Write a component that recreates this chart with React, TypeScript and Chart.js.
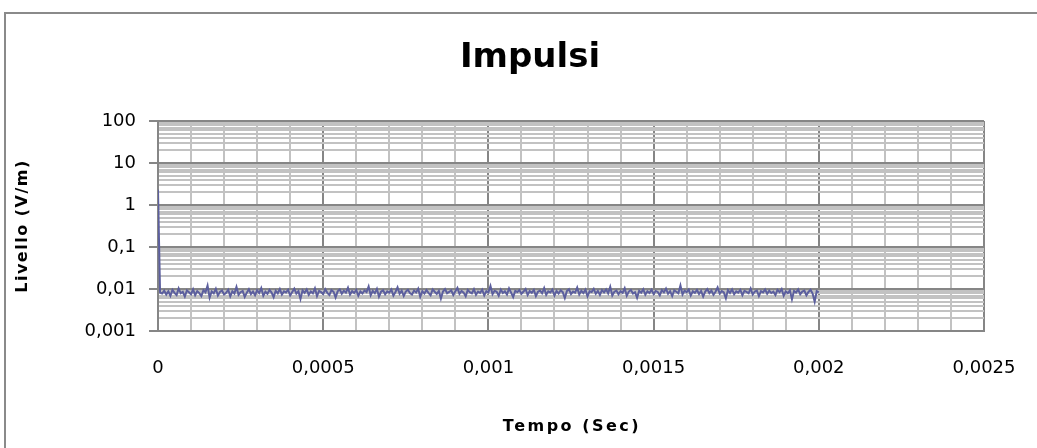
import React, { useEffect, useRef } from "react";
import { Chart, registerables } from "chart.js";

Chart.register(...registerables);

const TITLE = "Impulsi";
const X_TITLE = "Tempo (Sec)";
const Y_TITLE = "Livello (V/m)";

// sample period of the recorded impulse trace (seconds)
const TIME_STEP = 0.00000625;

// measured level (V/m), one value per sample starting at t = 0
const LEVELS: number[] = [
  2.3,
  0.0082, 0.0078, 0.0091, 0.0074, 0.0088, 0.0069, 0.0095, 0.0081, 0.0072, 0.0103, 0.0079, 0.0086, 0.0066, 0.0092, 0.0084, 0.0075, 0.0098, 0.0071, 0.0089, 0.008,
  0.0068, 0.0094, 0.0083, 0.012, 0.0062, 0.0087, 0.0079, 0.0101, 0.007, 0.0085, 0.0092, 0.0074, 0.0081, 0.0096, 0.0067, 0.0088, 0.0078, 0.0112, 0.0073, 0.0084,
  0.009, 0.0065, 0.0082, 0.0099, 0.0076, 0.0087, 0.0071, 0.0093, 0.008, 0.0105, 0.0069, 0.0086, 0.0077, 0.0095, 0.0082, 0.0064, 0.0091, 0.0079, 0.01, 0.0074,
  0.0088, 0.0083, 0.0096, 0.007, 0.0085, 0.0102, 0.0078, 0.0089, 0.0058, 0.0093, 0.0081, 0.0097, 0.0073, 0.0087, 0.0079, 0.0104, 0.0068, 0.009, 0.0084, 0.0076,
  0.0099, 0.0081, 0.0072, 0.0094, 0.0086, 0.0063, 0.0088, 0.0098, 0.0077, 0.0091, 0.0082, 0.0107, 0.0074, 0.0089, 0.008, 0.0095, 0.0069, 0.0087, 0.0078, 0.0092,
  0.0084, 0.0115, 0.0071, 0.009, 0.0079, 0.0101, 0.0066, 0.0086, 0.0093, 0.0075, 0.0088, 0.0082, 0.0097, 0.007, 0.0085, 0.011, 0.0077, 0.0091, 0.0068, 0.0087,
  0.0096, 0.008, 0.0074, 0.0092, 0.0083, 0.0102, 0.0065, 0.0089, 0.0078, 0.0094, 0.0081, 0.0071, 0.0098, 0.0086, 0.0076, 0.009, 0.0059, 0.0087, 0.01, 0.0079,
  0.0085, 0.0093, 0.0072, 0.0088, 0.0106, 0.0077, 0.009, 0.0082, 0.0067, 0.0095, 0.0084, 0.0079, 0.0099, 0.0073, 0.0087, 0.0081, 0.0096, 0.007, 0.0089, 0.0083,
  0.0118, 0.0075, 0.0091, 0.0086, 0.0069, 0.0097, 0.008, 0.0088, 0.0074, 0.0103, 0.0082, 0.0064, 0.009, 0.0085, 0.0094, 0.0077, 0.0087, 0.01, 0.0072, 0.0089,
  0.0081, 0.0095, 0.0068, 0.0086, 0.0092, 0.0079, 0.0105, 0.0073, 0.0088, 0.0083, 0.0097, 0.007, 0.009, 0.0078, 0.0093, 0.0084, 0.0061, 0.0089, 0.0099, 0.0076,
  0.0087, 0.0082, 0.0108, 0.0074, 0.0091, 0.008, 0.0096, 0.0067, 0.0088, 0.0085, 0.0101, 0.0077, 0.009, 0.0072, 0.0094, 0.0083, 0.0098, 0.0079, 0.0113, 0.007,
  0.0086, 0.0092, 0.0075, 0.0089, 0.0081, 0.0104, 0.0069, 0.0087, 0.0095, 0.0078, 0.0084, 0.0062, 0.0091, 0.0082, 0.0099, 0.0073, 0.0088, 0.008, 0.0096, 0.0076,
  0.009, 0.0085, 0.0071, 0.0094, 0.0083, 0.0102, 0.0077, 0.0089, 0.0068, 0.0093, 0.0086, 0.0079, 0.0122, 0.0074, 0.0091, 0.0084, 0.0097, 0.007, 0.0088, 0.0081,
  0.0095, 0.0076, 0.009, 0.0066, 0.0087, 0.01, 0.008, 0.0092, 0.0073, 0.0086, 0.0109, 0.0078, 0.0089, 0.0083, 0.006, 0.0094, 0.0081, 0.0098, 0.0075, 0.0088,
  0.0082, 0.0096, 0.0071, 0.009, 0.0085, 0.0079, 0.0103, 0.0074, 0.0087, 0.0092, 0.0068, 0.0089, 0.0083, 0.0097, 0.0077, 0.0091, 0.008, 0.0086, 0.0072, 0.0095,
  0.0084, 0.01, 0.0069, 0.0088, 0.0079, 0.0093, 0.0057, 0.009, 0.0082, 0.0098, 0.0075, 0.0087, 0.0092, 0.0071, 0.0085, 0.0096, 0.0078, 0.005, 0.0089, 0.0083,
];

// x grid (every 0.0001 s) and the labelled ticks
const X_GRID: number[] = [
  0, 0.0001, 0.0002, 0.0003, 0.0004, 0.0005, 0.0006, 0.0007, 0.0008, 0.0009,
  0.001, 0.0011, 0.0012, 0.0013, 0.0014, 0.0015, 0.0016, 0.0017, 0.0018, 0.0019,
  0.002, 0.0021, 0.0022, 0.0023, 0.0024, 0.0025,
];
const X_LABELS: string[] = ["0", "0,0005", "0,001", "0,0015", "0,002", "0,0025"];

// log y grid (1..9 per decade) and labelled decades
const Y_GRID: number[] = [
  0.001, 0.002, 0.003, 0.004, 0.005, 0.006, 0.007, 0.008, 0.009,
  0.01, 0.02, 0.03, 0.04, 0.05, 0.06, 0.07, 0.08, 0.09,
  0.1, 0.2, 0.3, 0.4, 0.5, 0.6, 0.7, 0.8, 0.9,
  1, 2, 3, 4, 5, 6, 7, 8, 9,
  10, 20, 30, 40, 50, 60, 70, 80, 90,
  100,
];
const Y_DECADES: number[] = [0.001, 0.01, 0.1, 1, 10, 100];
const Y_LABELS: string[] = ["0,001", "0,01", "0,1", "1", "10", "100"];

const FONT = "'DejaVu Sans', 'Liberation Sans', sans-serif";
const MAJOR = "#868686";
const MINOR = "#c2c2c2";
const LINE = "#5c5f9e";

const decadeIndex = (v: number) =>
  Y_DECADES.findIndex((d) => Math.abs(d - v) / d < 1e-6);

const frame = {
  id: "frame",
  beforeDraw(chart: any) {
    const { ctx, width, height } = chart;
    ctx.save();
    ctx.fillStyle = "#ffffff";
    ctx.fillRect(0, 0, width, height);
    ctx.strokeStyle = "#8a8a8a";
    ctx.lineWidth = 2;
    ctx.strokeRect(5, 13, width + 40, height + 40);
    ctx.restore();
  },
  afterDraw(chart: any) {
    const { ctx, chartArea } = chart;
    ctx.save();
    ctx.fillStyle = "#000000";
    ctx.textAlign = "center";
    // main title
    ctx.font = `bold 34px ${FONT}`;
    ctx.textBaseline = "alphabetic";
    ctx.fillText(TITLE, 530, 67);
    // x title
    ctx.font = `bold 16px ${FONT}`;
    ctx.textBaseline = "middle";
    try { (ctx as any).letterSpacing = "2.5px"; } catch (e) {}
    ctx.fillText(X_TITLE, (chartArea.left + chartArea.right) / 2 + 1, 427);
    // y title
    try { (ctx as any).letterSpacing = "1.5px"; } catch (e) {}
    ctx.translate(23, (chartArea.top + chartArea.bottom) / 2);
    ctx.rotate(-Math.PI / 2);
    ctx.fillText(Y_TITLE, 0, 0);
    ctx.restore();
  },
};

export default function App() {
  const ref = useRef<HTMLCanvasElement | null>(null);

  useEffect(() => {
    if (!ref.current) return;
    const points = LEVELS.map((v, i) => ({ x: i * TIME_STEP, y: v }));
    const chart = new Chart(ref.current, {
      type: "line",
      data: {
        datasets: [
          {
            label: Y_TITLE,
            data: points,
            borderColor: LINE,
            borderWidth: 2,
            pointRadius: 0,
            tension: 0,
            fill: false,
          },
        ],
      },
      plugins: [frame],
      options: {
        animation: false,
        responsive: false,
        maintainAspectRatio: false,
        parsing: false as any,
        layout: { padding: { top: 121, right: 53, bottom: 0, left: 0 } },
        plugins: {
          legend: { display: false },
          title: { display: false },
          tooltip: { enabled: false },
        },
        scales: {
          x: {
            type: "linear",
            min: 0,
            max: 0.0025,
            afterBuildTicks: (s: any) => {
              s.ticks = X_GRID.map((v) => ({ value: v }));
            },
            afterFit: (s: any) => {
              s.height = 117;
              s.paddingLeft = 0;
              s.paddingRight = 0;
            },
            grid: {
              color: (c: any) => (c.index % 5 === 0 ? MAJOR : MINOR),
              lineWidth: 2,
              drawTicks: false,
            },
            border: { display: true, color: MAJOR, width: 2 },
            ticks: {
              autoSkip: false,
              maxRotation: 0,
              padding: 27,
              color: "#000",
              font: { family: FONT, size: 18 },
              callback: (_v: any, i: number) => (i % 5 === 0 ? X_LABELS[i / 5] : ""),
            },
          },
          y: {
            type: "logarithmic",
            min: 0.001,
            max: 100,
            afterBuildTicks: (s: any) => {
              s.ticks = Y_GRID.map((v) => ({ value: v }));
            },
            afterFit: (s: any) => {
              s.width = 158;
              s.paddingTop = 0;
              s.paddingBottom = 0;
            },
            grid: {
              color: (c: any) => (c.tick && decadeIndex(c.tick.value) >= 0 ? MAJOR : MINOR),
              lineWidth: 2,
              drawTicks: true,
              tickLength: 9,
              tickWidth: 2,
              tickColor: (c: any) =>
                c.tick && decadeIndex(c.tick.value) >= 0 ? MAJOR : "rgba(0,0,0,0)",
            },
            border: { display: true, color: MAJOR, width: 2 },
            ticks: {
              autoSkip: false,
              padding: 13,
              color: "#000",
              font: { family: FONT, size: 18 },
              callback: (v: any) => {
                const k = decadeIndex(Number(v));
                return k >= 0 ? Y_LABELS[k] : "";
              },
            },
          },
        },
      },
    });
    return () => chart.destroy();
  }, []);

  return (
    <div style={{ position: "absolute", left: 0, top: 0, width: 1037, height: 448, overflow: "hidden" }}>
      <canvas ref={ref} width={1037} height={448} style={{ display: "block" }} />
    </div>
  );
}
